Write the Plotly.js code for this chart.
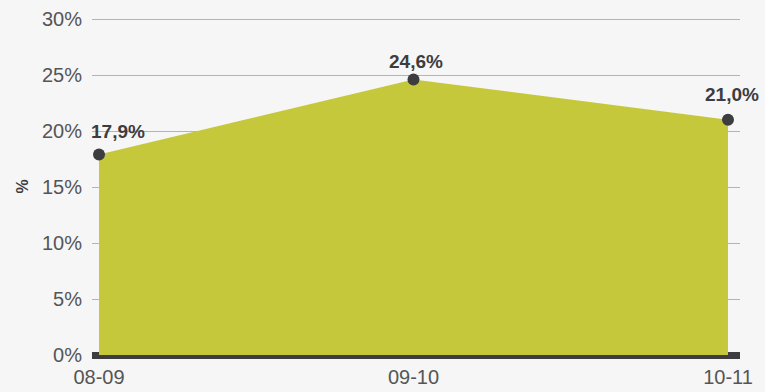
<!DOCTYPE html>
<html><head><meta charset="utf-8">
<script src="https://cdn.plot.ly/plotly-3.0.1.min.js"></script>
<style>html,body{margin:0;padding:0;background:#f6f6f6;}#chart{width:765px;height:392px;}</style>
</head><body><div id="chart"></div>
<script>
const categories = ['08-09', '09-10', '10-11'];
const values = [17.9, 24.6, 21.0];
const valueLabels = ['17,9%', '24,6%', '21,0%'];
const yTickVals = [0, 5, 10, 15, 20, 25, 30];
const yTickText = ['0%', '5%', '10%', '15%', '20%', '25%', '30%'];

const dark = '#3d3d40';
const xShifts = [19, 2, 4];
const yShifts = [23.5, 18, 25.5];

const trace = {
  x: categories, y: values, type: 'scatter', mode: 'lines+markers',
  fill: 'tozeroy', fillcolor: '#c6c83c',
  line: {color: '#c6c83c', width: 0},
  marker: {color: dark, size: 12},
  cliponaxis: false, hoverinfo: 'none'
};

const annotations = categories.map((c, i) => ({
  x: c, y: values[i], text: valueLabels[i], showarrow: false,
  xshift: xShifts[i], yshift: yShifts[i],
  font: {family: 'Liberation Sans, Arial, sans-serif', size: 19, color: dark, weight: 'bold'}
}));

const layout = {
  width: 765, height: 392,
  paper_bgcolor: '#f6f6f6', plot_bgcolor: '#f6f6f6',
  margin: {l: 92, r: 25, t: 18, b: 37},
  showlegend: false,
  font: {family: 'Liberation Sans, Arial, sans-serif', color: '#555'},
  xaxis: {
    type: 'category', range: [-0.0223, 2.0382],
    showgrid: false, zeroline: false, showline: false, ticks: '',
    tickfont: {size: 20, color: '#555'}, ticklabelstandoff: 8
  },
  yaxis: {
    range: [0, 30.09], tickvals: yTickVals, ticktext: yTickText,
    showgrid: true, gridcolor: '#b4b4b4', gridwidth: 1,
    zeroline: true, zerolinecolor: dark, zerolinewidth: 7,
    showline: false, ticks: '',
    tickfont: {size: 20, color: '#555'}, ticklabelstandoff: 9,
    title: {text: '%', font: {size: 16, color: dark, weight: 'bold'}, standoff: 9}
  },
  annotations: annotations
};

Plotly.newPlot('chart', [trace], layout, {displayModeBar: false, staticPlot: true});
</script></body></html>
